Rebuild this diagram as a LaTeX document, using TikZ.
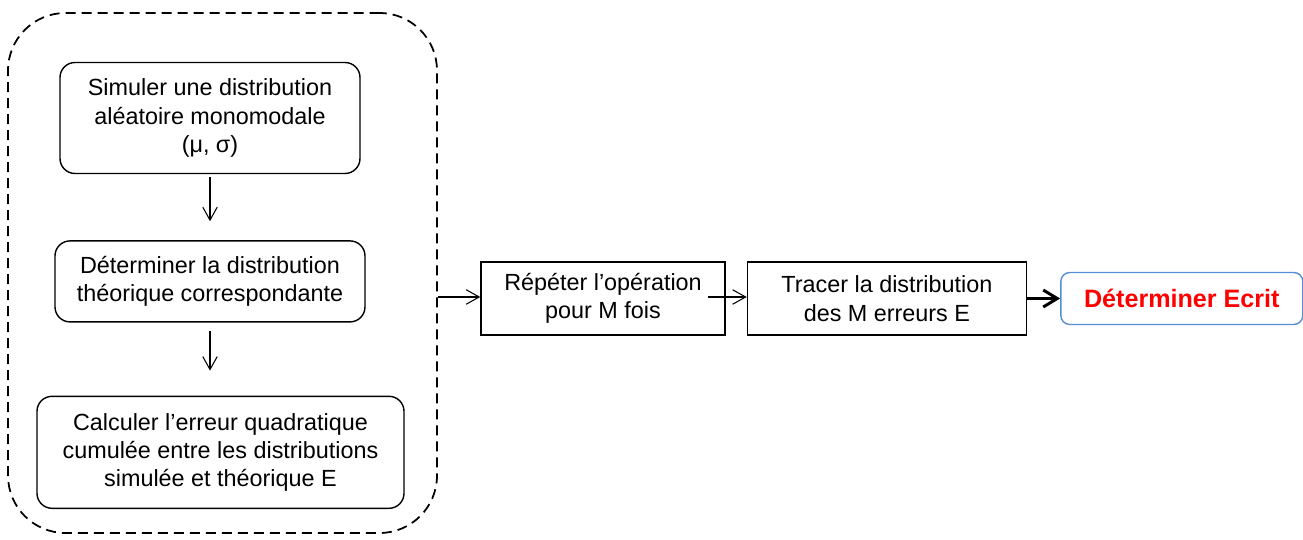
\documentclass[tikz,border=0pt]{standalone}
\usepackage{fontspec}
\setmainfont{Liberation Sans}
\usepackage{xcolor}
\usepackage{tikz}
\usetikzlibrary{arrows.meta,positioning,calc}

\definecolor{boxblue}{RGB}{85,142,213}

\begin{document}
\begin{tikzpicture}[every node/.style={font=\fontsize{13.3}{16.1}\selectfont, align=center},
    stage/.style={draw, rounded corners=0.3cm, line width=0.8pt, inner sep=0pt},
    plain/.style={draw, line width=0.8pt, inner sep=0pt, minimum width=4.88cm, minimum height=1.46cm},
    arr/.style={line width=0.6pt, -{Straight Barb[length=2.6mm,width=2.9mm]}}]
    \useasboundingbox (0,0) rectangle (26.06,-10.8);
    % simulation loop
    \node (loop) [draw, dashed, dash pattern=on 0.2cm off 0.12cm, rounded corners=1.15cm, line width=1pt, minimum width=8.58cm, minimum height=10.4cm] at (4.45,-5.46) {};
    \node (sim) [stage, minimum width=6.0cm, minimum height=2.22cm] at (4.2,-2.36) {Simuler une distribution\\aléatoire monomodale\\(μ, σ)};
    \node (theo) [stage, below=1.32cm of sim, minimum width=6.2cm, minimum height=1.62cm] {Déterminer la distribution\\théorique correspondante};
    \node (calc) [stage, below=1.46cm of theo, xshift=0.21cm, minimum width=7.34cm, minimum height=2.24cm] {Calculer l’erreur quadratique\\cumulée entre les distributions\\simulée et théorique E};
    % right-hand chain
    \node (rep) [plain] at (12.06,-5.97) {Répéter l’opération\\pour M fois};
    \node (trace) [plain, right=0.42cm of rep, minimum width=5.58cm] {Tracer la distribution\\des M erreurs E};
    \node (ecrit) [draw=boxblue, rounded corners=0.18cm, line width=0.8pt, right=0.66cm of trace, minimum width=4.84cm, minimum height=1.04cm, font=\fontsize{14.3}{17}\selectfont\bfseries, text=red] {Déterminer Ecrit};
    \coordinate (repout) at ($(rep.east)+(-0.36,0.03)$);
    \draw[arr, shorten <=0.06cm, shorten >=0.38cm] (sim) -- (theo);
    \draw[arr, shorten <=0.16cm, shorten >=0.5cm] (theo.south) -- (theo.south |- calc.north);
    \draw[arr] (loop.east |- repout) -- (rep.west |- repout);
    \draw[arr] (repout) -- (trace.west |- repout);
    \draw[line width=1.7pt, -{Straight Barb[length=2.8mm,width=3.4mm]}] (trace) -- (ecrit);
\end{tikzpicture}
\end{document}
